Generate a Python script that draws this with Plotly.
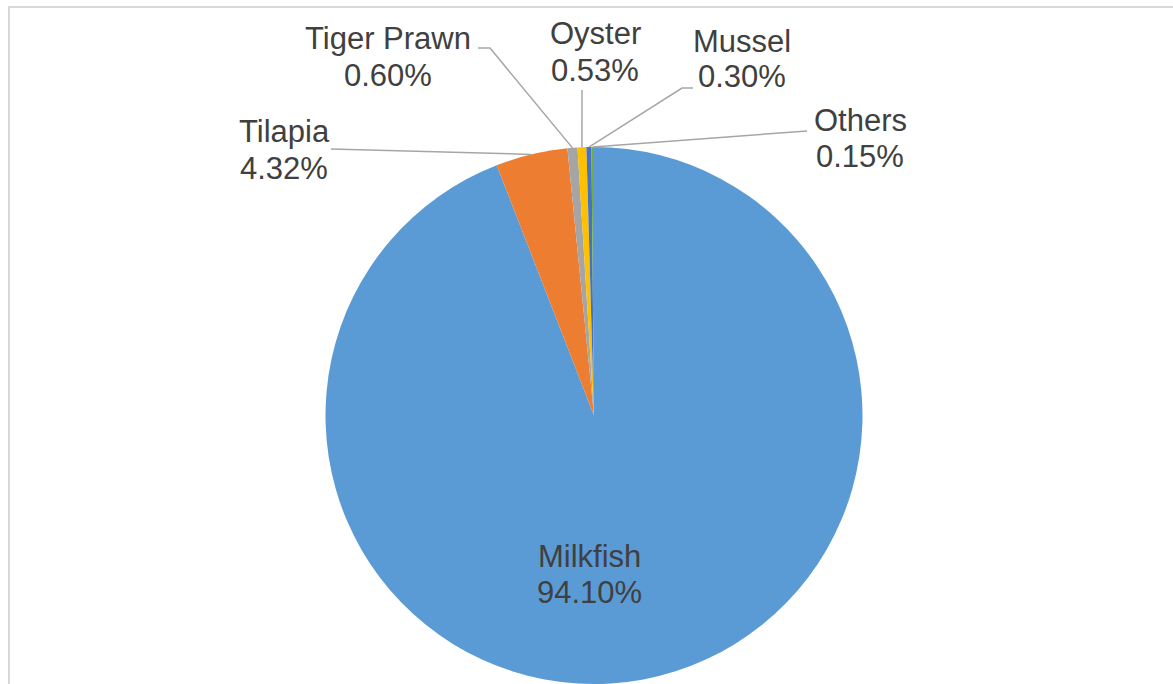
import math
import plotly.graph_objects as go

# data
species = ["Milkfish", "Tilapia", "Tiger Prawn", "Oyster", "Mussel", "Others"]
shares = [94.10, 4.32, 0.60, 0.53, 0.30, 0.15]
colors = ["#5B9BD5", "#ED7D31", "#A5A5A5", "#FFC000", "#4472C4", "#70AD47"]

W, H = 1173, 684

# pie placement (pixels)
cx, cy, r = 594, 415.5, 268.5

# centre of the first label line, second line sits LINE px lower
LINE = 36
label_pos = {
    "Milkfish": (589, 556),
    "Tilapia": (284, 132),
    "Tiger Prawn": (388, 39),
    "Oyster": (595, 34),
    "Mussel": (742, 41),
    "Others": (860, 120),
}
leader = {
    "Tilapia": [(331, 149)],
    "Tiger Prawn": [(478, 48), (490, 48)],
    "Oyster": [(582, 90)],
    "Mussel": [(693, 88), (682, 88)],
    "Others": [(807, 131)],
}

def px(x, y):
    return x / W, 1 - y / H

fig = go.Figure(go.Pie(
    labels=species,
    values=shares,
    marker=dict(colors=colors, line=dict(width=0)),
    sort=False,
    direction="clockwise",
    rotation=0,
    textinfo="none",
    hoverinfo="label+percent",
    showlegend=False,
    domain=dict(x=[(cx - r) / W, (cx + r) / W], y=[0, 1 - (cy - r) / H]),
))

font = dict(family="Liberation Sans, Arial", size=31, color="#404040")
total = sum(shares)
cum = 0
shapes = []
annotations = []
for name, v in zip(species, shares):
    mid = (cum + v / 2) / total * 2 * math.pi
    cum += v
    ex, ey = cx + r * math.sin(mid), cy - r * math.cos(mid)
    lx, ly = label_pos[name]
    pct = f"{v / total * 100:.2f}%"
    for i, txt in enumerate([name, pct]):
        annotations.append(dict(
            x=lx / W, y=1 - (ly + i * LINE) / H, xref="paper", yref="paper",
            text=txt, showarrow=False, font=font,
            xanchor="center", yanchor="middle",
        ))
    if name in leader:
        pts = leader[name] + [(ex, ey)]
        path = "M " + " L ".join(f"{px(a, b)[0]},{px(a, b)[1]}" for a, b in pts)
        shapes.append(dict(type="path", path=path, xref="paper", yref="paper",
                           line=dict(color="#A6A6A6", width=1.5)))

# chart frame
shapes.append(dict(type="rect", xref="paper", yref="paper",
                   x0=9 / W, y0=-0.05, x1=1.05, y1=1 - 7 / H,
                   line=dict(color="#D9D9D9", width=2), layer="below"))

fig.update_layout(
    width=W, height=H,
    margin=dict(l=0, r=0, t=0, b=0),
    paper_bgcolor="white",
    plot_bgcolor="white",
    shapes=shapes,
    annotations=annotations,
)

fig.write_html("out.html", config={"displayModeBar": False},
               post_script="document.body.style.margin='0';")
